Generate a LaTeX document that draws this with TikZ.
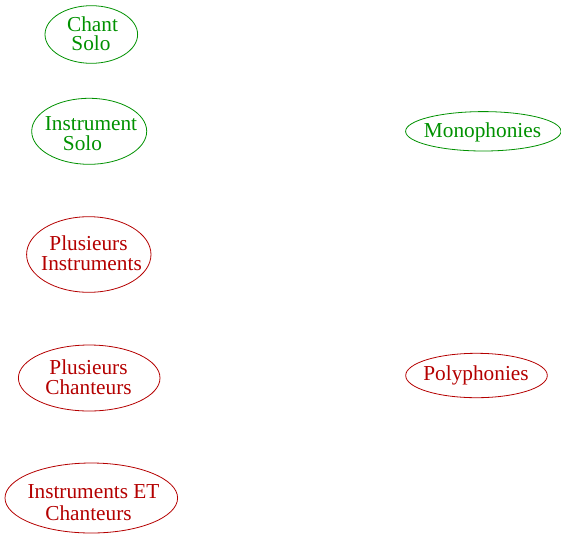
\documentclass[tikz,border=0pt]{standalone}
\usepackage{fontspec}
\setmainfont{Liberation Serif}
\usetikzlibrary{shapes.geometric}
\definecolor{mgreen}{RGB}{0,145,0}
\definecolor{mred}{RGB}{180,0,0}
\tikzset{
  ell/.style={ellipse, draw, line width=0.8pt, inner sep=0pt},
  grn/.style={draw=mgreen, text=mgreen},
  rd/.style={draw=mred, text=mred},
  lbl/.style={anchor=base, inner sep=0pt, font=\fontsize{21.3}{21}\selectfont}
}
\begin{document}
\begin{tikzpicture}[x=1pt,y=1pt]
\useasboundingbox (0,0) rectangle (561,-533);
% ellipses
\node[ell,grn,minimum width=92.6,minimum height=57.6] (chant) at (91.3,-34.5) {};
\node[ell,grn,minimum width=115,minimum height=66] (instr) at (89.2,-131.3) {};
\node[ell,rd,minimum width=124.4,minimum height=75.6] (plinstr) at (88.8,-254.5) {};
\node[ell,rd,minimum width=141.6,minimum height=66] (plchant) at (89.2,-378) {};
\node[ell,rd,minimum width=172.6,minimum height=70] (instrchant) at (91.3,-498) {};
\node[ell,grn,minimum width=155.4,minimum height=39.4] (mono) at (483.3,-131.3) {};
\node[ell,rd,minimum width=141.6,minimum height=44.4] (poly) at (476.5,-375.5) {};
% labels
\node[lbl,text=mgreen] (t1a) at (92.5,-31.7) {Chant};
\node[lbl,text=mgreen] (t1b) at (91,-50) {Solo};
\node[lbl,text=mgreen] (t2a) at (91,-130) {Instrument};
\node[lbl,text=mgreen] (t2b) at (82.5,-150.7) {Solo};
\node[lbl,text=mred] (t3a) at (88.5,-250.7) {Plusieurs};
\node[lbl,text=mred] (t3b) at (91.5,-270) {Instruments};
\node[lbl,text=mred] (t4a) at (88.5,-374.3) {Plusieurs};
\node[lbl,text=mred] (t4b) at (88.5,-394.3) {Chanteurs};
\node[lbl,text=mred] (t5a) at (93.5,-498.3) {Instruments ET};
\node[lbl,text=mred] (t5b) at (88.5,-520) {Chanteurs};
\node[lbl,text=mgreen] (t6) at (482.5,-137.7) {Monophonies};
\node[lbl,text=mred] (t7) at (476,-380) {Polyphonies};
\end{tikzpicture}
\end{document}
